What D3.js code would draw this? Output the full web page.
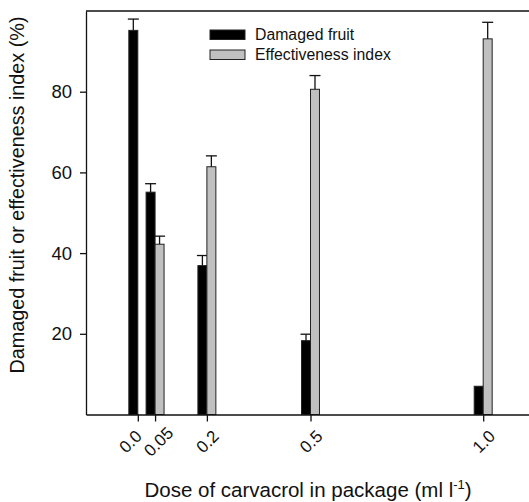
<!DOCTYPE html>
<html>
<head>
<meta charset="utf-8">
<script src="https://cdn.jsdelivr.net/npm/d3@7"></script>
<style>
  body { margin: 0; background: #fff; }
  svg { display: block; font-family: "Liberation Sans", Arial, sans-serif; }
</style>
</head>
<body>
<div id="chart"></div>
<script>
// dose of carvacrol (ml l-1) and tick labels
const doses = [0, 0.05, 0.2, 0.5, 1.0];
const doseLabels = ["0.0", "0.05", "0.2", "0.5", "1.0"];

// series values (%) and their upper error bars
const damaged = [95.2, 55.1, 36.9, 18.3, 7.0];
const damagedErr = [2.8, 2.1, 2.5, 1.6, 0];
const effectiveness = [0, 42.2, 61.4, 80.6, 93.1];
const effectivenessErr = [0, 2.0, 2.7, 3.4, 4.1];

const yTicks = [20, 40, 60, 80];
const seriesNames = ["Damaged fruit", "Effectiveness index"];
const seriesColors = ["#000000", "#c0c0c0"];

// the two crowded labels near zero are pushed apart a little
const labelNudge = { "0.0": -8, "0.05": 3 };

const W = 529, H = 502;
const margin = { top: 11, left: 86, bottom: 87.5 };
const plotH = H - margin.top - margin.bottom;

const svg = d3.select("#chart").append("svg")
  .attr("width", W).attr("height", H);

const x = d3.scaleLinear().domain([-0.15, 1.15]).range([margin.left, margin.left + 449]);
const y = d3.scaleLinear().domain([0, 100]).range([margin.top + plotH, margin.top]);
const barW = x(0.026) - x(0);

// frame: top line
svg.append("line")
  .attr("x1", x(-0.15)).attr("x2", x(1.15))
  .attr("y1", y(100)).attr("y2", y(100))
  .attr("stroke", "#111").attr("stroke-width", 1.3);

// bars
const g = svg.append("g");
const series = [
  { vals: damaged, err: damagedErr, offset: -barW, color: seriesColors[0] },
  { vals: effectiveness, err: effectivenessErr, offset: 0, color: seriesColors[1] }
];
series.forEach((s) => {
  doses.forEach((d, i) => {
    if (s.vals[i] <= 0) return;
    const bx = x(d) + s.offset;
    g.append("rect")
      .attr("x", bx).attr("y", y(s.vals[i]))
      .attr("width", barW).attr("height", y(0) - y(s.vals[i]))
      .attr("fill", s.color).attr("stroke", "#222").attr("stroke-width", 1);
    if (s.err[i] > 0) {
      const cx = bx + barW / 2;
      g.append("line")
        .attr("x1", cx).attr("x2", cx)
        .attr("y1", y(s.vals[i])).attr("y2", y(s.vals[i] + s.err[i]))
        .attr("stroke", "#111").attr("stroke-width", 1.3);
      g.append("line")
        .attr("x1", cx - barW / 2 - 1).attr("x2", cx + barW / 2 + 1)
        .attr("y1", y(s.vals[i] + s.err[i])).attr("y2", y(s.vals[i] + s.err[i]))
        .attr("stroke", "#111").attr("stroke-width", 1.3);
    }
  });
});

// axes
const yAxis = svg.append("g")
  .attr("transform", `translate(${margin.left},0)`)
  .call(d3.axisLeft(y).tickValues(yTicks).tickSize(6).tickSizeOuter(0).tickPadding(8));
yAxis.selectAll("text").attr("font-size", 18.5).attr("fill", "#111").attr("font-family", null);

const xAxis = svg.append("g")
  .attr("transform", `translate(0,${y(0)})`)
  .call(d3.axisBottom(x).tickValues(doses).tickFormat((d, i) => doseLabels[i]).tickSize(7).tickSizeOuter(0));
xAxis.selectAll("text")
  .attr("font-size", 17).attr("fill", "#111").attr("font-family", null)
  .attr("text-anchor", "middle")
  .attr("x", 0).attr("y", 0).attr("dy", "0.35em")
  .attr("transform", (d, i) => `translate(${labelNudge[doseLabels[i]] || 0},27) rotate(-45)`);

svg.selectAll(".domain, .tick line").attr("stroke", "#111").attr("stroke-width", 1.3);

// axis titles
svg.append("text")
  .attr("transform", `translate(24,195) rotate(-90)`)
  .attr("text-anchor", "middle")
  .attr("font-size", 19.8).attr("fill", "#111")
  .text("Damaged fruit or effectiveness index (%)");

const xt = svg.append("text")
  .attr("x", 308).attr("y", 497)
  .attr("text-anchor", "middle")
  .attr("font-size", 20.5).attr("fill", "#111");
xt.append("tspan").text("Dose of carvacrol in package (ml l");
xt.append("tspan").attr("font-size", 13).attr("dy", -8).text("-1");
xt.append("tspan").attr("dy", 8).text(")");

// legend
const legend = svg.append("g").attr("transform", "translate(210,30)");
seriesNames.forEach((name, i) => {
  legend.append("rect")
    .attr("x", 0).attr("y", i * 20)
    .attr("width", 35).attr("height", 9.5)
    .attr("fill", seriesColors[i]).attr("stroke", "#222").attr("stroke-width", 1);
  legend.append("text")
    .attr("x", 45).attr("y", i * 20 + 10)
    .attr("font-size", 15.8).attr("fill", "#111")
    .text(name);
});
</script>
</body>
</html>
